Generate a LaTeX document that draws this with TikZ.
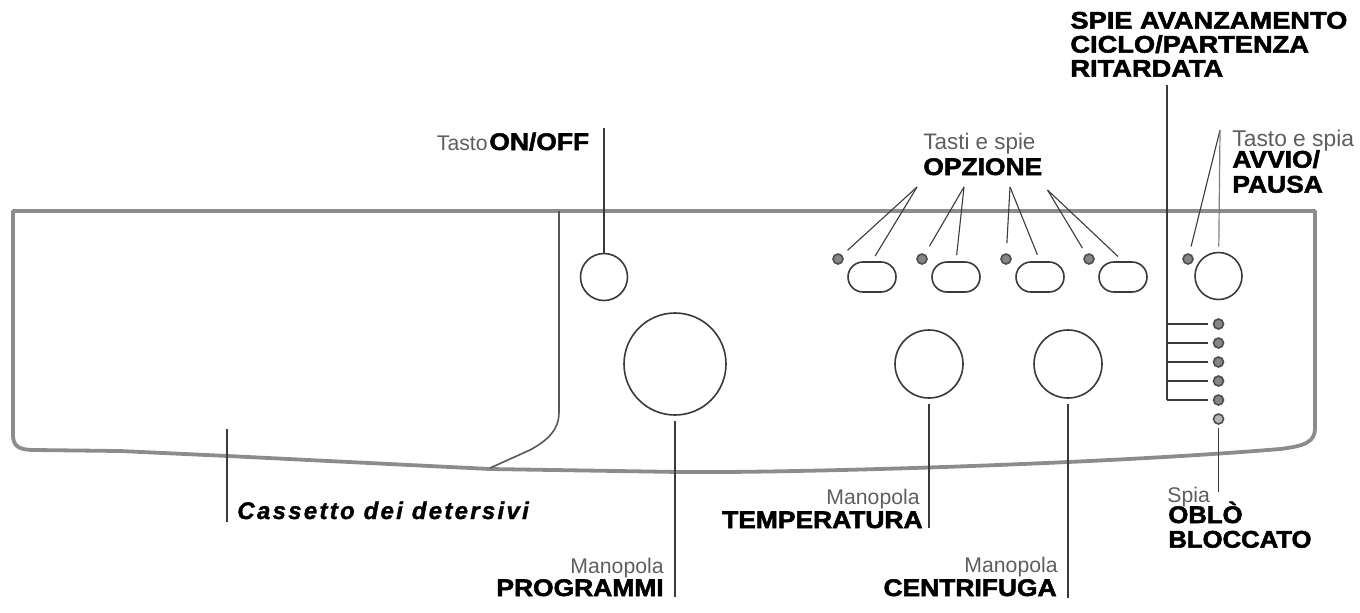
\documentclass[tikz,border=0pt]{standalone}
\usepackage{fontspec}
\setmainfont{Liberation Sans}
\newfontfamily\blackf[FakeBold=2.2,FakeStretch=1.1]{Liberation Sans Bold}
\newfontfamily\blackw[FakeBold=2.2,FakeStretch=1.135]{Liberation Sans Bold}
\newfontfamily\blackn[FakeBold=2.2,FakeStretch=1.07]{Liberation Sans Bold}
\newfontfamily\blackit[FakeBold=1.4,LetterSpace=9.5]{Liberation Sans Bold Italic}
\usetikzlibrary{shapes.misc}
\definecolor{panelgray}{HTML}{8C8C8C}
\definecolor{inkgray}{HTML}{3A3A3A}
\definecolor{lightgray2}{HTML}{5E5E5E}
\definecolor{lampfill}{HTML}{858585}
\tikzset{
  outline/.style={draw=panelgray,line width=1.9pt,line join=round},
  thinedge/.style={draw=inkgray!85!white,line width=0.8pt},
  dial/.style={circle,draw=inkgray,line width=0.8pt,inner sep=0pt,fill=white},
  pill/.style={rounded rectangle,draw=inkgray,line width=0.8pt,minimum width=24pt,minimum height=15pt,inner sep=0pt},
  lamp/.style={circle,draw=inkgray!90!white,line width=0.8pt,fill=lampfill,minimum size=5pt,inner sep=0pt},
  leader/.style={draw=inkgray,line width=0.55pt},
  leadergray/.style={draw=lightgray2!80!white,line width=0.6pt},
  boldlab/.style={font=\blackf\fontsize{12}{12.2}\selectfont,text=black,inner sep=0pt,text depth=0pt,align=left},
  lightlab/.style={font=\fontsize{10.6}{11}\selectfont,text=lightgray2,inner sep=0pt,text depth=0pt},
}
\begin{document}
\begin{tikzpicture}[x=0.5pt,y=-0.5pt]
\useasboundingbox (0,0) rectangle (1360,612);
% panel
\path[outline] (13,211) -- (1315,211) -- (1315,428)
  .. controls (1315,442) and (1305,446) .. (1280,449)
  .. controls (1100,464) and (800,473) .. (680,472)
  -- (490,469) -- (228,456) -- (120,451) -- (35,450)
  .. controls (20,450) and (13,447) .. (13,435) -- cycle;
\path[thinedge] (559,211) -- (559,412) .. controls (559,430) and (548,440) .. (530,450) -- (490,468);
% controls
\node[dial,minimum size=23.5pt] (onoff) at (604,277) {};
\node[dial,minimum size=51pt] (prog) at (675,364) {};
\node[dial,minimum size=34pt] (temp) at (929,364) {};
\node[dial,minimum size=34pt] (centr) at (1068,364) {};
\node[dial,minimum size=23.5pt] (avvio) at (1218.5,276) {};
\node[pill] (p1) at (872,277) {};
\node[pill] (p2) at (956,277) {};
\node[pill] (p3) at (1040,277) {};
\node[pill] (p4) at (1123,277) {};
\node[lamp] (l1) at (838,259) {};
\node[lamp] (l2) at (922,259) {};
\node[lamp] (l3) at (1006,259) {};
\node[lamp] (l4) at (1089,259) {};
\node[lamp] (la) at (1188,259) {};
\foreach \n/\y in {1/324,2/343,3/362,4/381,5/400}{
  \node[lamp] (s\n) at (1218.5,\y) {};
}
\node[lamp,fill=lampfill!60!white] (s6) at (1218.5,419) {};
% free ends
\coordinate (c1) at (917,187);
\coordinate (c2) at (964,187);
\coordinate (c3) at (1010,187);
\coordinate (c4) at (1047.5,190);
\coordinate (ca) at (1220,130);
\coordinate (con) at (604,128);
\coordinate (cprog) at (675,597);
\coordinate (ctemp) at (929,528);
\coordinate (ccentr) at (1068,598);
\coordinate (cobl) at (1218.5,492);
\coordinate (cdrawtop) at (227,429);
\coordinate (cdrawbot) at (227,522);
\coordinate (ctop) at (1167,85);
\coordinate (cbot) at (1167,400);
% leaders
\path[leader,shorten >=3.5pt] (c1) -- (l1);
\path[leader,shorten >=3pt] (c1) -- (p1.north);
\path[leader,shorten >=4.5pt] (c2) -- (l2);
\path[leader,shorten >=3pt] (c2) -- (p2.north);
\path[leader,shorten >=5pt] (c3) -- (l3);
\path[leader,shorten >=3.5pt] (c3) -- (p3.north);
\path[leader,shorten >=3.5pt] (c4) -- (l4);
\path[leader,shorten >=3.5pt] (c4) -- (p4.north);
\path[leader,shorten >=3.5pt] (ca) -- (la);
\path[leadergray,shorten >=2.5pt] (ca) -- (avvio);
\path[leader,shorten >=0pt] (con) -- (onoff);
\path[leader,shorten >=2.5pt] (cprog) -- (prog);
\path[leader,shorten >=2.5pt] (ctemp) -- (temp);
\path[leader,shorten >=2.5pt] (ccentr) -- (centr);
\path[leader,shorten >=1.5pt] (cobl) -- (s6);
\path[leader] (cdrawtop) -- (cdrawbot);
\path[leader,line width=0.7pt] (ctop) -- (cbot);
\foreach \n/\y in {1/324,2/343,3/362,4/381,5/400}{
  \coordinate (b\n) at (1167,\y);
  \path[leader,shorten >=2.5pt] (b\n) -- (s\n);
}
% labels
\node[lightlab,anchor=base east] (tasto) at (488,150) {Tasto};
\node[boldlab,anchor=base west] (onofflab) at (489,150) {ON/OFF};
\node[lightlab,font=\fontsize{11.2}{11}\selectfont,anchor=base west] (tsp) at (923,149) {Tasti e spie};
\node[boldlab,anchor=base west] (opz) at (923,175) {OPZIONE};
\node[lightlab,font=\fontsize{11.4}{11}\selectfont,anchor=base west] (tsa) at (1232,146) {Tasto e spia};
\node[boldlab,font=\blackf\fontsize{12}{12.5}\selectfont,anchor=south west] (avl) at (1232,193) {AVVIO/\\PAUSA};
\node[boldlab,font=\blackw\fontsize{12}{12}\selectfont,anchor=south west] (spie) at (1070,77) {SPIE AVANZAMENTO\\CICLO/PARTENZA\\RITARDATA};
\node[lightlab,anchor=base west] (spia) at (1167,502) {Spia};
\node[boldlab,font=\blackn\fontsize{12}{12.3}\selectfont,anchor=south west] (obl) at (1168,548) {OBLÒ\\BLOCCATO};
\node[lightlab,anchor=base east] (m1) at (664,573) {Manopola};
\node[boldlab,anchor=base east] (pr) at (664,596) {PROGRAMMI};
\node[lightlab,anchor=base east] (m2) at (920,504) {Manopola};
\node[boldlab,anchor=base east] (te) at (923,528) {TEMPERATURA};
\node[lightlab,anchor=base east] (m3) at (1058,572) {Manopola};
\node[boldlab,anchor=base east] (ce) at (1057,596) {CENTRIFUGA};
\node[font=\blackit\fontsize{12}{12}\selectfont,anchor=base west,inner sep=0pt,text=black] (cass) at (237,519) {Cassetto dei detersivi};
\end{tikzpicture}
\end{document}
